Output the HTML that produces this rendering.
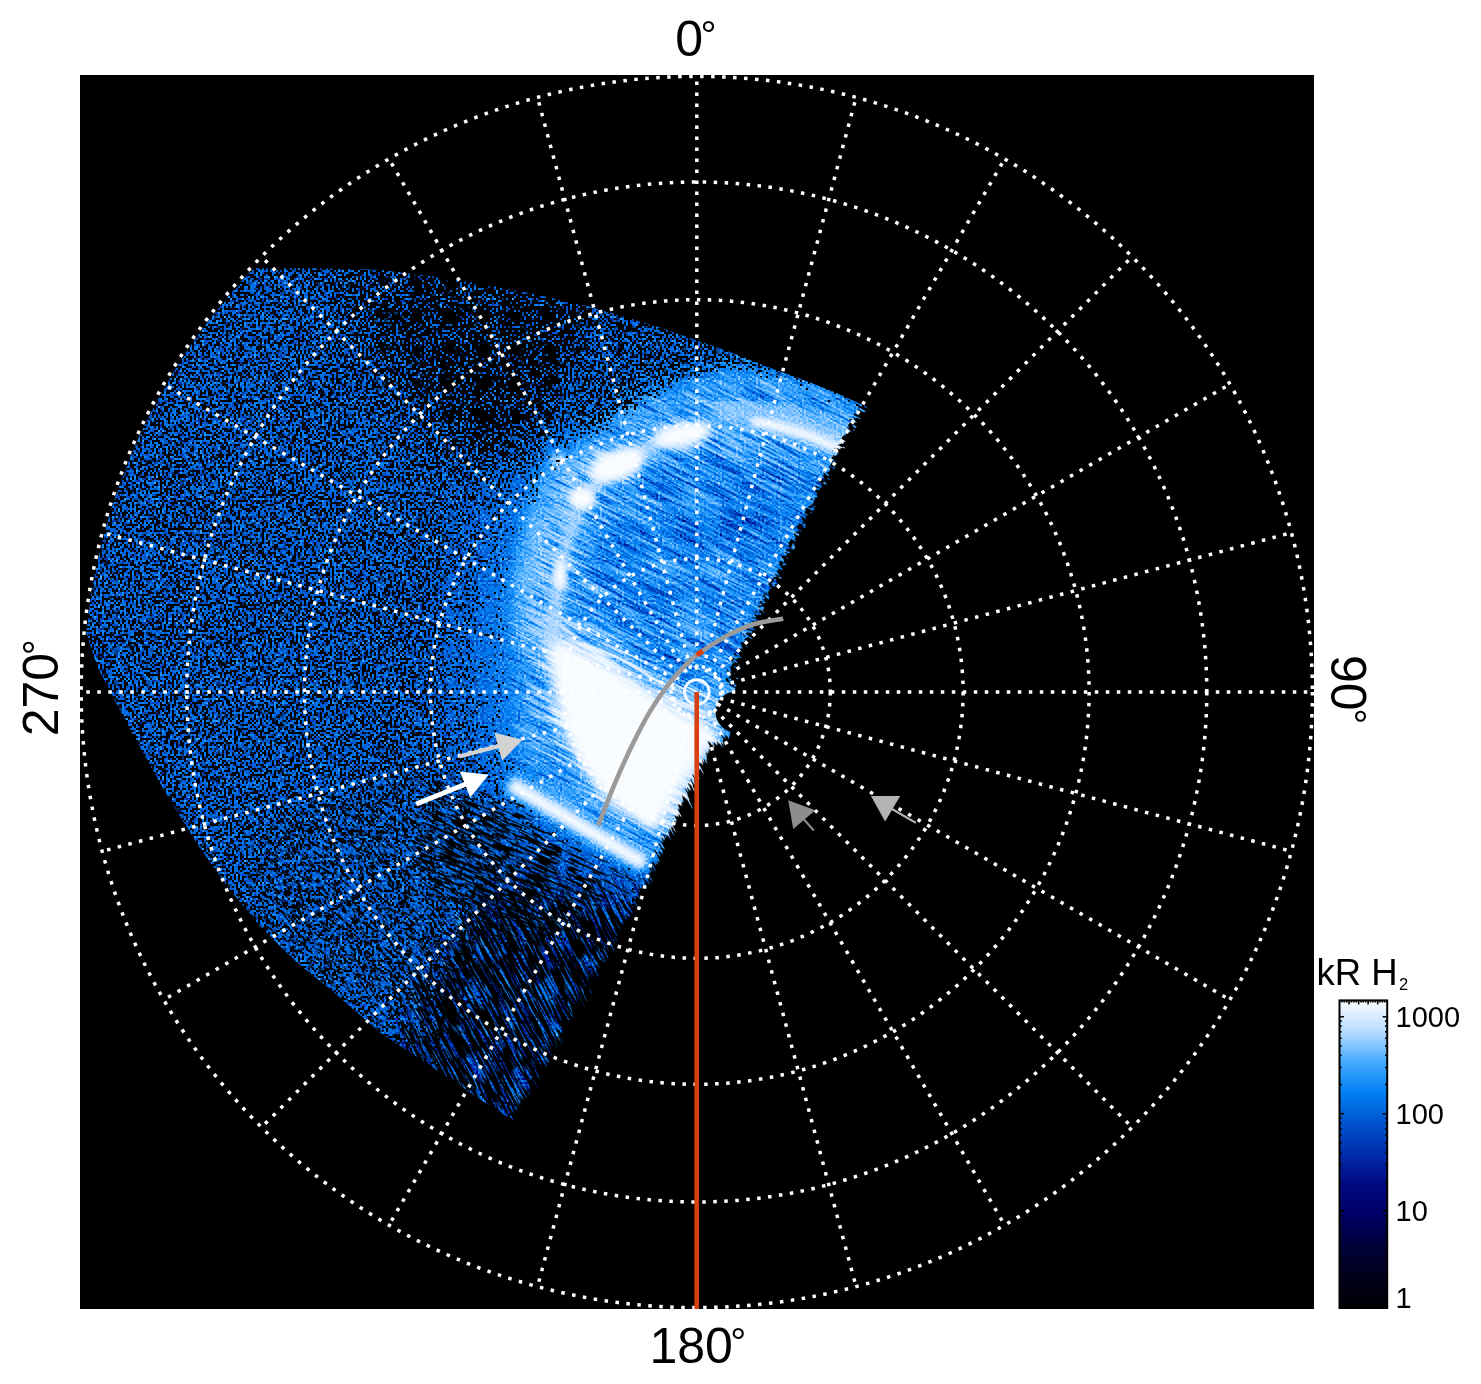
<!DOCTYPE html>
<html lang="en">
<head>
<meta charset="utf-8">
<title>Polar projection – kR H2</title>
<style>
html,body{margin:0;padding:0;background:#fff;}
body{width:1481px;height:1384px;overflow:hidden;}
svg{display:block;}
text{font-family:"Liberation Sans",sans-serif;fill:#000;}
</style>
</head>
<body>
<svg width="1481" height="1384" viewBox="0 0 1481 1384">
<defs>
  <clipPath id="dataclip"><path d="M251.6,268.5 L244.6,275.9 L237.7,283.5 L231,291.2 L224.4,299 L218,306.9 L211.6,314.9 L205.4,323 L199.4,331.2 L193.4,339.5 L187.7,347.9 L182,356.4 L176.5,365 L171.2,373.7 L165.9,382.5 L160.9,391.3 L156,400.3 L151.2,409.3 L146.6,418.4 L142.1,427.6 L137.8,436.8 L133.6,446.2 L129.6,455.5 L125.8,465 L122.1,474.5 L118.5,484.1 L115.2,493.7 L112,503.4 L108.9,513.1 L106,522.9 L103.3,532.8 L100.7,542.6 L98.3,552.6 L96.1,562.5 L94,572.5 L92.1,582.5 L90.4,592.6 L88.8,602.7 L87.4,612.8 L86.2,622.9 L85.1,633.1 L95.4,665 L111.3,696.7 L133.6,738 L165.4,795 L197,846 L229,890.6 L260.7,928.7 L292.5,960.5 L330,990.7 L380,1034 L417,1058.5 L454,1083 L483,1102.7 L510,1120 L522,1128 L540,1092 L566,1042 L602,986 L630,931 L662,878 L684,836 L700,802 L716,766 L730,740 L736,712 L736,690 L742,676 L760,640 L790,578 L820,517 L850,456 L868,420 L876,414 L866,405 L836.5,391.5 L801,377.5 L766,365 L731,351 L696,338.8 L661,326.6 L590.7,305.5 L520.4,289.7 L450,277.4 L380,268.6 L320,267 L250,267Z"/></clipPath>
  <clipPath id="sqclip"><rect x="80" y="75" width="1234" height="1234"/></clipPath>

  <!-- intensity -> colour lookup (blue/white table) with pixel noise -->
  <filter id="lut" x="60" y="240" width="860" height="920" filterUnits="userSpaceOnUse" color-interpolation-filters="sRGB">
    <feTurbulence type="fractalNoise" baseFrequency="0.45" numOctaves="1" seed="11" result="t"/>
    <feColorMatrix in="t" type="matrix" values="1 0 0 0 0  1 0 0 0 0  1 0 0 0 0  0 0 0 0 1" result="n0"/>
    <feFlood x="60" y="240" width="1" height="1" flood-color="#000" result="px"/>
    <feOffset in="px" dx="0" dy="0" x="60" y="240" width="2" height="2" result="cell"/>
    <feTile in="cell" result="lat"/>
    <feComposite in="n0" in2="lat" operator="in" result="s0"/>
    <feOffset in="s0" dx="1" dy="0" result="s1"/><feOffset in="s0" dx="0" dy="1" result="s2"/><feOffset in="s0" dx="1" dy="1" result="s3"/>
    <feMerge result="n"><feMergeNode in="s0"/><feMergeNode in="s1"/><feMergeNode in="s2"/><feMergeNode in="s3"/></feMerge>
    <feComposite in="SourceGraphic" in2="n" operator="arithmetic" k1="-1.5" k2="1.75" k3="1.5" k4="-0.75" result="i"/>
    <feComponentTransfer in="i">
      <feFuncR type="table" tableValues="0 0 0 0 0 0 0 0 .275 .72 .98"/>
      <feFuncG type="table" tableValues="0 0 0 0 .03 .17 .325 .5 .67 .86 .99"/>
      <feFuncB type="table" tableValues="0 .11 .22 .39 .5 .67 .8 .95 1 1 1"/>
    </feComponentTransfer>
  </filter>

  <!-- speckle: source gray level = density of black (zero count) pixels -->
  <filter id="spk" x="60" y="240" width="860" height="920" filterUnits="userSpaceOnUse" color-interpolation-filters="sRGB">
    <feTurbulence type="fractalNoise" baseFrequency="0.47" numOctaves="1" seed="3" result="t"/>
    <feColorMatrix in="t" type="matrix" values="0 0 0 0 0  0 0 0 0 0  0 0 0 0 0  1 0 0 0 0" result="na0"/>
    <feFlood x="60" y="240" width="1" height="1" flood-color="#000" result="px"/>
    <feOffset in="px" dx="0" dy="0" x="60" y="240" width="2" height="2" result="cell"/>
    <feTile in="cell" result="lat"/>
    <feComposite in="na0" in2="lat" operator="in" result="s0"/>
    <feOffset in="s0" dx="1" dy="0" result="s1"/><feOffset in="s0" dx="0" dy="1" result="s2"/><feOffset in="s0" dx="1" dy="1" result="s3"/>
    <feMerge result="na"><feMergeNode in="s0"/><feMergeNode in="s1"/><feMergeNode in="s2"/><feMergeNode in="s3"/></feMerge>
    <feColorMatrix in="SourceGraphic" type="matrix" values="0 0 0 0 0  0 0 0 0 0  0 0 0 0 0  1 0 0 0 0" result="da"/>
    <feComposite in="da" in2="na" operator="arithmetic" k1="0" k2="30" k3="-30" k4="0.5"/>
    <feColorMatrix type="matrix" values="0 0 0 0 0  0 0 0 0 0  0 0 0 0 0  0 0 0 1 0"/>
  </filter>

  <!-- streaks (anisotropic noise) -->
  <filter id="stkD" x="-900" y="-900" width="3400" height="3400" filterUnits="userSpaceOnUse" color-interpolation-filters="sRGB">
    <feTurbulence type="fractalNoise" baseFrequency="0.02 0.42" numOctaves="2" seed="5" result="t"/>
    <feColorMatrix in="t" type="matrix" values="0 0 0 0 0  0 0 0 0 0  0 0 0 0 0  1 0 0 0 0" result="na"/>
    <feColorMatrix in="SourceGraphic" type="matrix" values="0 0 0 0 0  0 0 0 0 0  0 0 0 0 0  1 0 0 0 0" result="da"/>
    <feComposite in="da" in2="na" operator="arithmetic" k1="0" k2="5" k3="-5" k4="0.5" result="a"/>
    <feColorMatrix in="a" type="matrix" values="0 0 0 0 0  0 0 0 0 0  0 0 0 0 0  0 0 0 0.24 0"/>
  </filter>
  <filter id="stkW" x="-900" y="-900" width="3400" height="3400" filterUnits="userSpaceOnUse" color-interpolation-filters="sRGB">
    <feTurbulence type="fractalNoise" baseFrequency="0.02 0.38" numOctaves="2" seed="23" result="t"/>
    <feColorMatrix in="t" type="matrix" values="0 0 0 0 0  0 0 0 0 0  0 0 0 0 0  1 0 0 0 0" result="na"/>
    <feColorMatrix in="SourceGraphic" type="matrix" values="0 0 0 0 0  0 0 0 0 0  0 0 0 0 0  1 0 0 0 0" result="da"/>
    <feComposite in="da" in2="na" operator="arithmetic" k1="0" k2="5" k3="-5" k4="0.5" result="a"/>
    <feColorMatrix in="a" type="matrix" values="0 0 0 0 1  0 0 0 0 1  0 0 0 0 1  0 0 0 0.4 0"/>
  </filter>
  <filter id="stkW2" x="-900" y="-900" width="3400" height="3400" filterUnits="userSpaceOnUse" color-interpolation-filters="sRGB">
    <feTurbulence type="fractalNoise" baseFrequency="0.02 0.38" numOctaves="2" seed="57" result="t"/>
    <feColorMatrix in="t" type="matrix" values="0 0 0 0 0  0 0 0 0 0  0 0 0 0 0  1 0 0 0 0" result="na"/>
    <feColorMatrix in="SourceGraphic" type="matrix" values="0 0 0 0 0  0 0 0 0 0  0 0 0 0 0  1 0 0 0 0" result="da"/>
    <feComposite in="da" in2="na" operator="arithmetic" k1="0" k2="5" k3="-5" k4="0.5" result="a"/>
    <feColorMatrix in="a" type="matrix" values="0 0 0 0 1  0 0 0 0 1  0 0 0 0 1  0 0 0 0.8 0"/>
  </filter>
  <filter id="stkB" x="-900" y="-900" width="3400" height="3400" filterUnits="userSpaceOnUse" color-interpolation-filters="sRGB">
    <feTurbulence type="fractalNoise" baseFrequency="0.13 0.4" numOctaves="2" seed="31" result="t"/>
    <feColorMatrix in="t" type="matrix" values="0 0 0 0 0  0 0 0 0 0  0 0 0 0 0  1 0 0 0 0" result="na"/>
    <feColorMatrix in="SourceGraphic" type="matrix" values="0 0 0 0 0  0 0 0 0 0  0 0 0 0 0  1 0 0 0 0" result="da"/>
    <feComposite in="da" in2="na" operator="arithmetic" k1="0" k2="14" k3="-14" k4="0.5" result="a"/>
    <feColorMatrix in="a" type="matrix" values="0 0 0 0 0  0 0 0 0 0  0 0 0 0 0  0 0 0 1 0"/>
  </filter>
  <filter id="stkM" x="-900" y="-900" width="3400" height="3400" filterUnits="userSpaceOnUse" color-interpolation-filters="sRGB">
    <feTurbulence type="fractalNoise" baseFrequency="0.045 0.42" numOctaves="2" seed="77" result="t"/>
    <feColorMatrix in="t" type="matrix" values="0 0 0 0 0  0 0 0 0 0  0 0 0 0 0  1 0 0 0 0" result="na"/>
    <feColorMatrix in="SourceGraphic" type="matrix" values="0 0 0 0 0  0 0 0 0 0  0 0 0 0 0  1 0 0 0 0" result="da"/>
    <feComposite in="da" in2="na" operator="arithmetic" k1="0" k2="14" k3="-14" k4="0.5" result="a"/>
    <feColorMatrix in="a" type="matrix" values="0 0 0 0 0  0 0 0 0 0  0 0 0 0 0  0 0 0 1 0"/>
  </filter>
  <filter id="stkL" x="-900" y="-900" width="3400" height="3400" filterUnits="userSpaceOnUse" color-interpolation-filters="sRGB">
    <feTurbulence type="fractalNoise" baseFrequency="0.03 0.5" numOctaves="2" seed="9" result="t"/>
    <feColorMatrix in="t" type="matrix" values="0 0 0 0 0  0 0 0 0 0  0 0 0 0 0  1 0 0 0 0" result="na"/>
    <feColorMatrix in="SourceGraphic" type="matrix" values="0 0 0 0 0  0 0 0 0 0  0 0 0 0 0  1 0 0 0 0" result="da"/>
    <feComposite in="da" in2="na" operator="arithmetic" k1="0" k2="12" k3="-12" k4="0.5" result="a"/>
    <feColorMatrix in="a" type="matrix" values="0 0 0 0 0  0 0 0 0 0  0 0 0 0 0  0 0 0 1 0"/>
  </filter>
  <filter id="stkLW" x="-900" y="-900" width="3400" height="3400" filterUnits="userSpaceOnUse" color-interpolation-filters="sRGB">
    <feTurbulence type="fractalNoise" baseFrequency="0.028 0.4" numOctaves="2" seed="41" result="t"/>
    <feColorMatrix in="t" type="matrix" values="0 0 0 0 0  0 0 0 0 0  0 0 0 0 0  1 0 0 0 0" result="na"/>
    <feColorMatrix in="SourceGraphic" type="matrix" values="0 0 0 0 0  0 0 0 0 0  0 0 0 0 0  1 0 0 0 0" result="da"/>
    <feComposite in="da" in2="na" operator="arithmetic" k1="0" k2="6" k3="-6" k4="0.5" result="a"/>
    <feColorMatrix in="a" type="matrix" values="0 0 0 0 1  0 0 0 0 1  0 0 0 0 1  0 0 0 0.35 0"/>
  </filter>
  <filter id="edgU" x="-900" y="-900" width="3400" height="3400" filterUnits="userSpaceOnUse" color-interpolation-filters="sRGB">
    <feTurbulence type="fractalNoise" baseFrequency="0.2 0.45" numOctaves="1" seed="13" result="t"/>
    <feColorMatrix in="t" type="matrix" values="0 0 0 0 0  0 0 0 0 0  0 0 0 0 0  1 0 0 0 0" result="na"/>
    <feColorMatrix in="SourceGraphic" type="matrix" values="0 0 0 0 0  0 0 0 0 0  0 0 0 0 0  1 0 0 0 0" result="da"/>
    <feComposite in="da" in2="na" operator="arithmetic" k1="0" k2="20" k3="-20" k4="0.5" result="a"/>
    <feColorMatrix in="a" type="matrix" values="0 0 0 0 0  0 0 0 0 0  0 0 0 0 0  0 0 0 1 0"/>
  </filter>

  <filter id="b3" x="-20%" y="-20%" width="140%" height="140%"><feGaussianBlur stdDeviation="3"/></filter>
  <filter id="b5" x="-30%" y="-30%" width="160%" height="160%"><feGaussianBlur stdDeviation="5"/></filter>
  <filter id="b8" x="-30%" y="-30%" width="160%" height="160%"><feGaussianBlur stdDeviation="8"/></filter>
  <filter id="b14" x="-30%" y="-30%" width="160%" height="160%"><feGaussianBlur stdDeviation="14"/></filter>
  <filter id="b40" x="-50%" y="-50%" width="200%" height="200%"><feGaussianBlur stdDeviation="40"/></filter>
  <filter id="b25" x="-30%" y="-30%" width="160%" height="160%"><feGaussianBlur stdDeviation="25"/></filter>

  <linearGradient id="cbg" x1="0" y1="1" x2="0" y2="0">
    <stop offset="0" stop-color="#000004"/>
    <stop offset="0.1" stop-color="#00001c"/>
    <stop offset="0.2" stop-color="#000039"/>
    <stop offset="0.3" stop-color="#000064"/>
    <stop offset="0.4" stop-color="#000881"/>
    <stop offset="0.5" stop-color="#002cab"/>
    <stop offset="0.6" stop-color="#0053cd"/>
    <stop offset="0.7" stop-color="#0080f2"/>
    <stop offset="0.8" stop-color="#46abff"/>
    <stop offset="0.9" stop-color="#b8dcff"/>
    <stop offset="1" stop-color="#fafdff"/>
  </linearGradient>
</defs>

<rect x="0" y="0" width="1481" height="1384" fill="#fff"/>
<rect x="80" y="75" width="1234" height="1234" fill="#000"/>

<!-- ================= data image ================= -->
<g clip-path="url(#dataclip)">
<g filter="url(#lut)">
  <!-- smooth intensity field (gray = log intensity) -->
  <rect x="60" y="240" width="860" height="920" fill="#a4a4a4"/>

  <!-- halo of brighter emission around the aurora -->
  <path filter="url(#b25)" fill="#c0c0c0" d="M700,380 L640,395 L585,430 L545,475 L520,530 L505,590 L500,650 L505,720 L520,785 L600,850 L670,880 L730,735 L750,690 L895,408 L800,376 L740,362 Z"/>
  <path filter="url(#b14)" fill="#cdcdcd" d="M700,392 L640,408 L595,442 L560,488 L540,540 L528,600 L525,660 L530,720 L545,775 L600,825 L670,860 L730,735 L750,690 L880,418 L800,390 L740,378 Z"/>
  <path filter="url(#b8)" fill="#dcdcdc" d="M612,440 L566,462 L536,515 L521,580 L519,645 L550,645 L554,590 L564,540 L582,500 L618,470 Z"/>
  <path filter="url(#b14)" fill="#cccccc" d="M640,408 L705,396 L780,403 L866,426 L850,455 L790,440 L705,425 L640,445 L600,440 Z"/>
  <!-- interior of the oval : medium blue -->
  <path filter="url(#b8)" fill="#bbbbbb" d="M640,485 L700,458 L800,468 L846,476 L805,575 L765,645 L745,690 L690,688 L640,665 L596,615 L590,540 Z"/>
  <ellipse filter="url(#b14)" cx="730" cy="520" rx="55" ry="35" fill="#aeaeae"/>

  <path filter="url(#b25)" fill="#9a9a9a" d="M520,850 L660,885 L535,1140 L440,1090 L470,980 Z"/>
  <!-- streak texture : upper/central part (dark + bright) -->
  <g transform="rotate(27 697 560)" filter="url(#stkD)"><g transform="rotate(-27 697 560)">
      <rect x="-600" y="-600" width="2800" height="2800" fill="#000"/>
      <path filter="url(#b25)" fill="#7a7a7a" d="M700,380 L640,395 L585,430 L545,475 L520,530 L505,590 L500,650 L505,720 L520,785 L600,850 L670,880 L730,735 L750,690 L895,408 L800,376 L740,362 Z"/>
    </g></g>
  <g transform="rotate(27 697 560)" filter="url(#stkW)"><g transform="rotate(-27 697 560)">
      <rect x="-600" y="-600" width="2800" height="2800" fill="#000"/>
      <path filter="url(#b25)" fill="#7c7c7c" d="M700,380 L640,395 L585,430 L545,475 L520,530 L505,590 L500,650 L505,720 L520,785 L600,850 L670,880 L730,735 L750,690 L895,408 L800,376 L740,362 Z"/>
    </g></g>

  <!-- main bright emission -->
  <path filter="url(#b14)" fill="#e4e4e4" d="M543,620 L582,642 L618,660 L653,682 L688,705 L724,722 L704,770 L674,834 L640,818 L598,785 L568,745 L554,700 Z"/>
  <path filter="url(#b5)" fill="#ffffff" d="M547,633 L580,654 L615,672 L649,694 L684,717 L718,733 L700,756 L678,786 L652,832 L622,808 L600,790 L582,765 L570,738 L561,707 L554,672 Z"/>

  <g transform="rotate(27 640 720)" filter="url(#stkW2)"><g transform="rotate(-27 640 720)">
      <rect x="-600" y="-600" width="2800" height="2800" fill="#000"/>
      <path filter="url(#b14)" fill="#7e7e7e" d="M525,600 L585,618 L625,640 L662,662 L700,688 L740,705 L715,775 L680,850 L636,835 L590,800 L552,755 L535,700 Z"/>
    </g></g>
  <!-- auroral arc -->
  <path filter="url(#b5)" fill="none" stroke="#e4e4e4" stroke-width="13" stroke-linecap="round" d="M702,430 C660,436 625,455 600,480 C575,505 563,545 558,590 C555,610 552,625 552,640"/>
  <ellipse filter="url(#b5)" cx="682" cy="435" rx="30" ry="12" fill="#fff" transform="rotate(-12 682 435)"/>
  <ellipse filter="url(#b5)" cx="617" cy="465" rx="30" ry="16" fill="#fff" transform="rotate(-20 617 465)"/>
  <ellipse filter="url(#b3)" cx="582" cy="498" rx="13" ry="11" fill="#fff"/>
  <ellipse filter="url(#b3)" cx="560" cy="575" rx="6" ry="15" fill="#fff"/>
  <ellipse filter="url(#b3)" cx="559" cy="460" rx="8" ry="7" fill="#e8e8e8"/>
  <!-- faint outer arc -->
  <path filter="url(#b8)" fill="none" stroke="#d6d6d6" stroke-width="10" d="M560,455 C535,500 522,550 525,610"/>
  <!-- upper-right streak -->
  <path filter="url(#b8)" fill="none" stroke="#dedede" stroke-width="28" stroke-linecap="round" d="M725,412 C775,414 815,428 852,448"/>
  <path filter="url(#b3)" fill="none" stroke="#ffffff" stroke-width="9" stroke-linecap="round" d="M755,422 C785,426 815,437 846,452"/>

  <!-- lower bright arc -->
  <path filter="url(#b5)" fill="none" stroke="#dedede" stroke-width="22" d="M508,782 C550,806 595,834 646,864"/>
  <path filter="url(#b3)" fill="none" stroke="#ffffff" stroke-width="10" d="M512,785 C550,807 595,835 644,863.5"/>

  <!-- lower right : darker base, dark + bright streaks -->
  <g transform="rotate(62 560 960)" filter="url(#stkD)"><g transform="rotate(-62 560 960)">
      <rect x="-600" y="-600" width="2800" height="2800" fill="#000"/>
      <path filter="url(#b25)" fill="#909090" d="M470,880 L600,870 L690,890 L540,1160 L370,1085 L400,980 Z"/>
      <path filter="url(#b3)" fill="none" stroke="#000" stroke-width="15" d="M508,782 C550,806 595,834 646,864"/>
    </g></g>
  <g transform="rotate(62 560 960)" filter="url(#stkLW)"><g transform="rotate(-62 560 960)">
      <rect x="-600" y="-600" width="2800" height="2800" fill="#000"/>
      <path filter="url(#b25)" fill="#787878" d="M470,880 L600,870 L690,890 L540,1160 L370,1085 L400,980 Z"/>
    </g></g>
</g>

  <!-- elongated speckle, lower-left (black) -->
  <g transform="rotate(42 400 900)" filter="url(#stkB)"><g transform="rotate(-42 400 900)">
      <rect x="-600" y="-600" width="2800" height="2800" fill="#000"/>
      <path filter="url(#b25)" fill="#6e6e6e" d="M250,810 L400,750 L530,790 L565,900 L495,1000 L465,1110 L380,1050 L300,990 L220,930 Z"/>
      <path filter="url(#b3)" fill="none" stroke="#000" stroke-width="15" d="M508,782 C550,806 595,834 646,864"/>
    </g></g>
  <!-- near-horizontal streaks just below the bright arc (black) -->
  <g transform="rotate(24 520 860)" filter="url(#stkM)"><g transform="rotate(-24 520 860)">
      <rect x="-600" y="-600" width="2800" height="2800" fill="#000"/>
      <path filter="url(#b14)" fill="#7d7d7d" d="M430,770 L520,800 L600,850 L670,890 L600,905 L540,960 L470,930 L400,860 Z"/>
      <path filter="url(#b3)" fill="none" stroke="#000" stroke-width="15" d="M508,782 C550,806 595,834 646,864"/>
    </g></g>
  <!-- long streaks, lower-right (black) -->
  <g transform="rotate(62 560 960)" filter="url(#stkL)"><g transform="rotate(-62 560 960)">
      <rect x="-600" y="-600" width="2800" height="2800" fill="#000"/>
      <path filter="url(#b25)" fill="#8b8b8b" d="M470,880 L600,870 L690,890 L540,1160 L370,1085 L400,980 Z"/>
      <path filter="url(#b3)" fill="none" stroke="#000" stroke-width="15" d="M508,782 C550,806 595,834 646,864"/>
    </g></g>

  <!-- zero-count speckle (black pixels) -->
  <g filter="url(#spk)">
    <rect x="60" y="240" width="860" height="920" fill="#7b7b7b"/>
    <path filter="url(#b25)" fill="#8f8f8f" d="M330,258 L450,266 L520,279 L590,294 L661,316 L725,338 L700,368 L650,402 L600,452 L560,495 L500,485 L430,435 L365,350 Z"/>
    <path filter="url(#b14)" fill="#989898" d="M420,272 L520,288 L600,306 L665,326 L640,372 L590,422 L545,462 L490,442 L440,382 Z"/>
    <path filter="url(#b25)" fill="#6c6c6c" d="M280,840 L400,790 L515,815 L560,900 L495,1000 L460,1085 L390,1030 L320,980 L255,925 Z"/>
    <path filter="url(#b14)" fill="#484848" d="M450,800 L520,820 L600,865 L650,895 L590,900 L540,940 L480,910 L425,855 Z"/>
    <path filter="url(#b25)" fill="#404040" d="M510,835 L655,895 L540,1125 L430,1070 L460,985 L525,900 Z"/>
    <path filter="url(#b40)" fill="#202020" d="M700,380 L640,395 L585,430 L545,475 L520,530 L505,590 L500,650 L505,720 L520,785 L600,850 L670,880 L730,735 L750,690 L895,408 L800,376 L740,362 Z"/>
    <path filter="url(#b3)" fill="none" stroke="#000" stroke-width="15" d="M508,782 C550,806 595,834 646,864"/>
    <path filter="url(#b14)" fill="#101010" d="M700,392 L640,408 L595,442 L560,488 L540,540 L528,600 L525,660 L530,720 L545,775 L600,825 L670,860 L730,735 L750,690 L880,418 L800,390 L740,378 Z"/>
    <path filter="url(#b8)" fill="#808080" d="M590,290 L661,314 L731,347 L801,373 L872,405 L868,412 L800,386 L740,368 L700,372 L660,392 L620,420 L590,442 L555,400 Z"/>
  </g>

  <!-- ragged right-hand edges -->
  <g transform="rotate(27 800 520)" filter="url(#edgU)"><g transform="rotate(-27 800 520)">
      <rect x="-600" y="-600" width="2800" height="2800" fill="#000"/>
      <path filter="url(#b8)" fill="#d8d8d8" d="M860,401 L856,409 L722,683 L742,692 L760,700 L900,700 L960,420 Z"/>
    </g></g>
  <g transform="rotate(62 600 940)" filter="url(#stkL)"><g transform="rotate(-62 600 940)">
      <rect x="-600" y="-600" width="2800" height="2800" fill="#000"/>
      <path filter="url(#b8)" fill="#e0e0e0" d="M730,733 L712,741 L648,874 L510,1120 L480,1150 L600,1200 L800,760 L760,728 Z"/>
    </g></g>
</g>
<!-- hide anti-aliasing seam of the clip boundary -->
<path d="M251.6,268.5 L244.6,275.9 L237.7,283.5 L231,291.2 L224.4,299 L218,306.9 L211.6,314.9 L205.4,323 L199.4,331.2 L193.4,339.5 L187.7,347.9 L182,356.4 L176.5,365 L171.2,373.7 L165.9,382.5 L160.9,391.3 L156,400.3 L151.2,409.3 L146.6,418.4 L142.1,427.6 L137.8,436.8 L133.6,446.2 L129.6,455.5 L125.8,465 L122.1,474.5 L118.5,484.1 L115.2,493.7 L112,503.4 L108.9,513.1 L106,522.9 L103.3,532.8 L100.7,542.6 L98.3,552.6 L96.1,562.5 L94,572.5 L92.1,582.5 L90.4,592.6 L88.8,602.7 L87.4,612.8 L86.2,622.9 L85.1,633.1 L95.4,665 L111.3,696.7 L133.6,738 L165.4,795 L197,846 L229,890.6 L260.7,928.7 L292.5,960.5 L330,990.7 L380,1034 L417,1058.5 L454,1083 L483,1102.7 L510,1120 L522,1128 L540,1092 L566,1042 L602,986 L630,931 L662,878 L684,836 L700,802 L716,766 L730,740 L736,712 L736,690 L742,676 L760,640 L790,578 L820,517 L850,456 L868,420 L876,414 L866,405 L836.5,391.5 L801,377.5 L766,365 L731,351 L696,338.8 L661,326.6 L590.7,305.5 L520.4,289.7 L450,277.4 L380,268.6 L320,267 L250,267Z" fill="none" stroke="#000" stroke-width="2.5"/>

<!-- notch near the pole -->
<circle cx="736" cy="712" r="20.5" fill="#000"/>

<!-- ================= grid ================= -->
<g clip-path="url(#sqclip)" fill="none" stroke="#fff" stroke-width="3.5" stroke-dasharray="3.5 7.5">
<circle cx="696.8" cy="692.0" r="24"/>
<circle cx="696.8" cy="692.0" r="133.5"/>
<circle cx="696.8" cy="692.0" r="266.3"/>
<circle cx="696.8" cy="692.0" r="392.3"/>
<circle cx="696.8" cy="692.0" r="510"/>
<circle cx="696.8" cy="692.0" r="615.6"/>
<path d="M696.8,668L696.8,76"/>
<path d="M703,668.8L856.2,97"/>
<path d="M708.8,671.2L1004.8,158.5"/>
<path d="M713.8,675L1132.4,256.4"/>
<path d="M717.6,680L1230.3,384"/>
<path d="M720,685.8L1291.8,532.6"/>
<path d="M720.8,692L1312.8,692"/>
<path d="M720,698.2L1291.8,851.4"/>
<path d="M717.6,704L1230.3,1000"/>
<path d="M713.8,709L1132.4,1127.6"/>
<path d="M708.8,712.8L1004.8,1225.5"/>
<path d="M703,715.2L856.2,1287"/>
<path d="M690.6,715.2L537.4,1287"/>
<path d="M684.8,712.8L388.8,1225.5"/>
<path d="M679.8,709L261.2,1127.6"/>
<path d="M676,704L163.3,1000"/>
<path d="M673.6,698.2L101.8,851.4"/>
<path d="M672.8,692L80.8,692"/>
<path d="M673.6,685.8L101.8,532.6"/>
<path d="M676,680L163.3,384"/>
<path d="M679.8,675L261.2,256.4"/>
<path d="M684.8,671.2L388.8,158.5"/>
<path d="M690.6,668.8L537.4,97"/>
</g>

<!-- pole marker, red meridian, gray arc -->
<circle cx="696.8" cy="692" r="12.3" fill="none" stroke="#f4faff" stroke-width="3"/>
<path d="M696.7,692V1309" stroke="#d9400f" stroke-width="4.6" fill="none"/>
<path d="M783.2,618.7C778.2,619.6 762.7,621.5 753.4,624.3C744.1,627.1 736.4,630.7 727.4,635.5C718.4,640.3 706.8,647.7 699.6,652.9C692.4,658.1 689.5,661.1 684,666.7C678.5,672.3 672.5,679 666.7,686.7C660.9,694.4 655.1,702.9 649.3,712.7C643.5,722.5 637.8,733.8 632,745.6C626.2,757.5 620.3,770.5 614.7,783.8C609.1,797.1 601,818.5 598.2,825.4" fill="none" stroke="#9a9a9a" stroke-width="4.6"/>
<path d="M696.6,654.9L702.8,650.9" stroke="#d9400f" stroke-width="5.4" fill="none"/>

<!-- arrows -->
<g>
  <path d="M459.2,756.5L500,745.8" stroke="#d2d2d2" stroke-width="4.2" fill="none"/>
  <path d="M522.6,739.7L494.5,732.7L502.1,760.8Z" fill="#d2d2d2"/>
  <path d="M416.2,804L466,784" stroke="#fff" stroke-width="4.6" fill="none"/>
  <path d="M488.6,774.8L460,771.4L470.2,797.5Z" fill="#fff"/>
  <path d="M813.8,830.5L804,819.5" stroke="#8c8c8c" stroke-width="2" fill="none"/>
  <path d="M788.2,800.3L815.4,810.2L793.2,828.9Z" fill="#8c8c8c"/>
  <path d="M915.9,822.9L892,809" stroke="#b4b4b4" stroke-width="2.2" fill="none"/>
  <path d="M871,795.9L900.2,796.1L885.1,821.6Z" fill="#b4b4b4"/>
</g>

<!-- ================= labels ================= -->
<text x="675.2" y="56" font-size="50">0<tspan font-size="40" dx="-2.5" dy="-7">°</tspan></text>
<text x="649.4" y="1362.5" font-size="50">180<tspan font-size="40" dx="-2.5" dy="-7">°</tspan></text>
<text transform="translate(57.5,736.3) rotate(-90)" font-size="50">270<tspan font-size="40" dx="-2.5" dy="-7">°</tspan></text>
<text transform="translate(1331.2,655) rotate(90)" font-size="50">90<tspan font-size="40" dx="-2.5" dy="-7">°</tspan></text>

<!-- ================= colour bar ================= -->
<text x="1316.5" y="984.5" font-size="36.5">kR H<tspan font-size="16.5" dy="5.5" dx="1.5">2</tspan></text>
<rect x="1339.5" y="1000.4" width="47.7" height="307.6" fill="url(#cbg)" stroke="#000" stroke-width="2"/>
<path d="M1339.5,1308h4.5M1387.2,1308h-4.5M1339.5,1278.8h2.2M1387.2,1278.8h-2.2M1339.5,1261.7h2.2M1387.2,1261.7h-2.2M1339.5,1249.5h2.2M1387.2,1249.5h-2.2M1339.5,1240.1h2.2M1387.2,1240.1h-2.2M1339.5,1232.4h2.2M1387.2,1232.4h-2.2M1339.5,1225.9h2.2M1387.2,1225.9h-2.2M1339.5,1220.3h2.2M1387.2,1220.3h-2.2M1339.5,1215.3h2.2M1387.2,1215.3h-2.2M1339.5,1210.9h4.5M1387.2,1210.9h-4.5M1339.5,1181.7h2.2M1387.2,1181.7h-2.2M1339.5,1164.6h2.2M1387.2,1164.6h-2.2M1339.5,1152.4h2.2M1387.2,1152.4h-2.2M1339.5,1143h2.2M1387.2,1143h-2.2M1339.5,1135.3h2.2M1387.2,1135.3h-2.2M1339.5,1128.8h2.2M1387.2,1128.8h-2.2M1339.5,1123.2h2.2M1387.2,1123.2h-2.2M1339.5,1118.2h2.2M1387.2,1118.2h-2.2M1339.5,1113.8h4.5M1387.2,1113.8h-4.5M1339.5,1084.6h2.2M1387.2,1084.6h-2.2M1339.5,1067.5h2.2M1387.2,1067.5h-2.2M1339.5,1055.3h2.2M1387.2,1055.3h-2.2M1339.5,1045.9h2.2M1387.2,1045.9h-2.2M1339.5,1038.2h2.2M1387.2,1038.2h-2.2M1339.5,1031.7h2.2M1387.2,1031.7h-2.2M1339.5,1026.1h2.2M1387.2,1026.1h-2.2M1339.5,1021.1h2.2M1387.2,1021.1h-2.2M1339.5,1016.7h4.5M1387.2,1016.7h-4.5M1341.9,1000.4v2M1344.3,1000.4v2M1346.7,1000.4v2M1349,1000.4v4M1351.4,1000.4v2M1353.8,1000.4v2M1356.2,1000.4v2M1358.6,1000.4v4M1361,1000.4v2M1363.3,1000.4v2M1365.7,1000.4v2M1368.1,1000.4v4M1370.5,1000.4v2M1372.9,1000.4v2M1375.3,1000.4v2M1377.7,1000.4v4M1380,1000.4v2M1382.4,1000.4v2M1384.8,1000.4v2" stroke="#000" stroke-width="1.6" fill="none"/>
<text x="1395.5" y="1027.3" font-size="29">1000</text>
<text x="1395.5" y="1124.3" font-size="29">100</text>
<text x="1395.5" y="1221.3" font-size="29">10</text>
<text x="1395.5" y="1308" font-size="29">1</text>
</svg>
</body>
</html>
